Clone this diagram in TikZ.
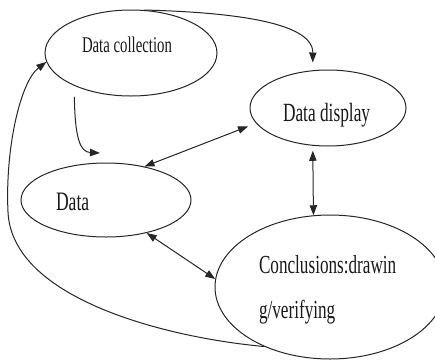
\documentclass[tikz,border=0pt]{standalone}
\usepackage{fontspec}
\newfontfamily\cond[FakeStretch=0.66]{Liberation Serif}
\usetikzlibrary{shapes.geometric,arrows.meta}
\tikzset{
  ell/.style={draw=black!85, line width=0.75pt, ellipse, inner sep=0pt},
  lbl/.style={inner sep=0pt, outer sep=0pt, anchor=base west, text=black!90},
  conn/.style={draw=black!85, line width=0.75pt, -{Triangle[length=7.5pt,width=5.5pt]}},
  dconn/.style={draw=black!85, line width=0.75pt, {Triangle[length=7.5pt,width=5.5pt]}-{Triangle[length=7.5pt,width=5.5pt]}}
}
\begin{document}
\begin{tikzpicture}[x=0.75pt,y=-0.75pt]
\clip (0,0) rectangle (435,361);
\fill[white] (0,0) rectangle (435,361);
% ellipses
\node[ell, minimum width=129pt, minimum height=64.5pt] (dc) at (131,53) {};
\node[ell, minimum width=117pt, minimum height=57pt] (dd) at (328,108) {};
\node[ell, minimum width=127.5pt, minimum height=55.5pt] (da) at (106,200) {};
\node[ell, minimum width=172.5pt, minimum height=108pt] (cc) at (330,287) {};
% labels
\node[lbl, font=\cond\fontsize{16.8pt}{18pt}\selectfont] (tdc) at (82,52) {Data collection};
\node[lbl, font=\cond\fontsize{19.7pt}{22pt}\selectfont] (tdd) at (283,121.5) {Data display};
\node[lbl, font=\cond\fontsize{20pt}{22pt}\selectfont] (tda) at (56,210.5) {Data};
\node[inner sep=0pt, outer sep=0pt, anchor=north west, align=left, text=black!90,
      font=\cond\fontsize{19.5pt}{33.75pt}\selectfont] (tcc) at (259,255.5)
      {Conclusions:drawin\\g/verifying};
% connectors
\coordinate (daIn) at (100,153);
\draw[conn, shorten >=5.8pt] (dc.73) .. controls (220,12) and (313,20) .. (dd.112);
\draw[conn, shorten <=8.25pt] (dc.210.5) .. controls (75,138) and (80,152) .. (daIn);
\draw[dconn, shorten >=6.4pt] (da.41.4) -- (dd.192);
\draw[dconn, shorten <=3.75pt] (dd.248) -- (cc.103.5);
\draw[dconn] (da.-39.8) -- (cc.176.5);
\draw[conn] (cc.222.3) .. controls (170,338) and (12,300) .. (8,212)
            .. controls (5,150) and (20,82) .. (dc.186);
\end{tikzpicture}
\end{document}
